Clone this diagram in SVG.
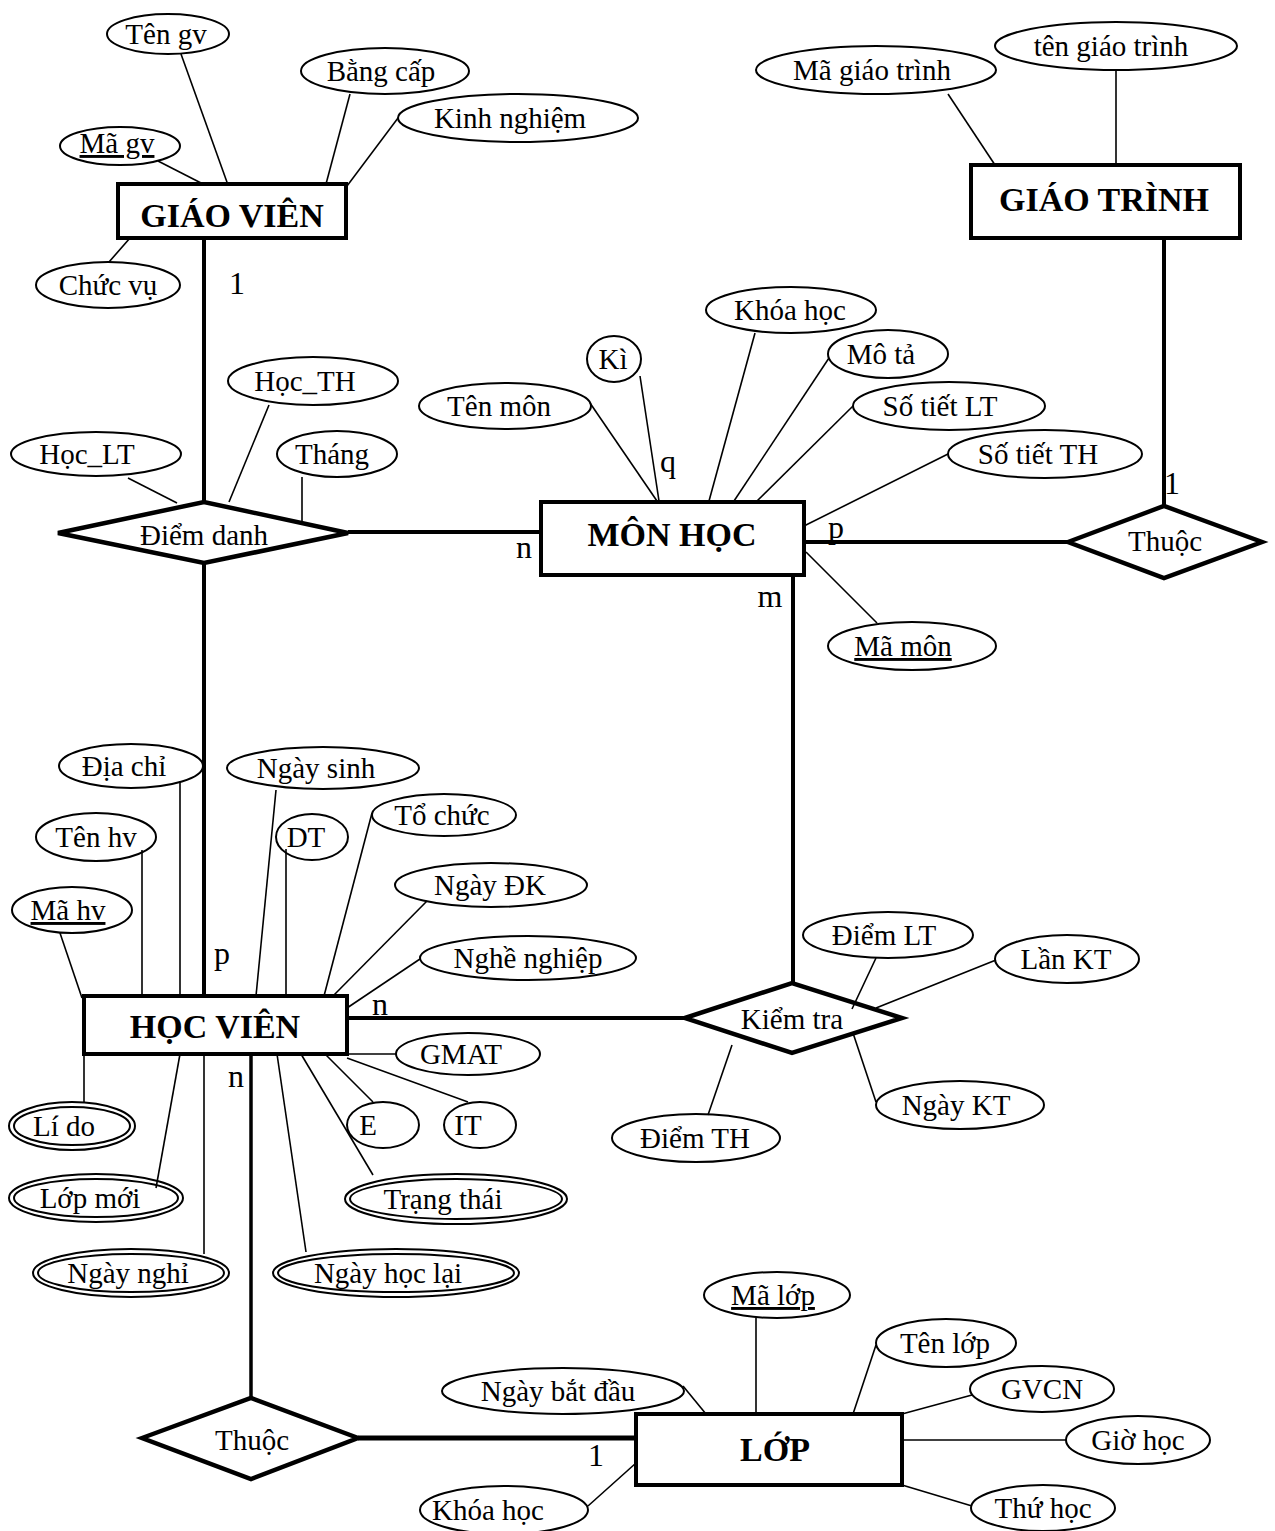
<svg xmlns="http://www.w3.org/2000/svg" width="1275" height="1531" viewBox="0 0 1275 1531">
<style>
text{font-family:"Liberation Serif","Times New Roman",serif;font-size:29px;text-anchor:middle;fill:#000}
.ename{font-weight:bold;font-size:34px}
.card{font-size:32px}
.u{text-decoration:underline}
.ent{fill:#fff;stroke:#000;stroke-width:4}
.rel{fill:#fff;stroke:#000;stroke-width:4.5;stroke-linejoin:miter}
.att{fill:#fff;stroke:#000;stroke-width:2}
.thin{stroke:#000;stroke-width:1.6;fill:none}
.thick{stroke:#000;stroke-width:4;fill:none}
</style>
<rect width="1275" height="1531" fill="#fff"/>

<!-- GIAO VIEN -->
<g id="giao-vien"><rect class="ent" x="118" y="184" width="228" height="54"/><text class="ename" x="232" y="227">GIÁO VIÊN</text></g>
<g id="ten-gv"><ellipse class="att" cx="168" cy="34" rx="61" ry="20"/><text x="166" y="44">Tên gv</text></g>
<g id="bang-cap"><ellipse class="att" cx="385" cy="71" rx="84" ry="23"/><text x="381" y="81">Bằng cấp</text></g>
<g id="kinh-nghiem"><ellipse class="att" cx="518" cy="118" rx="120" ry="24"/><text x="510" y="128">Kinh nghiệm</text></g>
<g id="ma-gv"><ellipse class="att" cx="120" cy="146" rx="60" ry="19"/><text class="u" x="117" y="153">Mã gv</text></g>
<g id="chuc-vu"><ellipse class="att" cx="108" cy="285" rx="72" ry="23"/><text x="108" y="295">Chức vụ</text></g>

<!-- DIEM DANH -->
<g id="diem-danh"><polygon class="rel" points="58,533 204,502 348,533 204,563"/><text x="204" y="545">Điểm danh</text></g>
<g id="hoc-lt"><ellipse class="att" cx="96" cy="454" rx="85" ry="22"/><text x="87" y="464">Học_LT</text></g>
<g id="hoc-th"><ellipse class="att" cx="313" cy="381" rx="85" ry="24"/><text x="305" y="391">Học_TH</text></g>
<g id="thang"><ellipse class="att" cx="337" cy="454" rx="60" ry="23"/><text x="332" y="464">Tháng</text></g>

<!-- MON HOC -->
<g id="mon-hoc"><rect class="ent" x="541" y="502" width="263" height="73"/><text class="ename" x="672" y="546">MÔN HỌC</text></g>
<g id="ten-mon"><ellipse class="att" cx="505" cy="406" rx="86" ry="23"/><text x="499" y="416">Tên môn</text></g>
<g id="ki"><ellipse class="att" cx="614" cy="359" rx="27" ry="23"/><text x="613" y="369">Kì</text></g>
<g id="khoa-hoc-mon"><ellipse class="att" cx="791" cy="310" rx="85" ry="23"/><text x="790" y="320">Khóa học</text></g>
<g id="mo-ta"><ellipse class="att" cx="888" cy="354" rx="60" ry="24"/><text x="881" y="364">Mô tả</text></g>
<g id="so-tiet-lt"><ellipse class="att" cx="949" cy="406" rx="96" ry="24"/><text x="940" y="416">Số tiết LT</text></g>
<g id="so-tiet-th"><ellipse class="att" cx="1045" cy="454" rx="97" ry="24"/><text x="1038" y="464">Số tiết TH</text></g>
<g id="ma-mon"><ellipse class="att" cx="912" cy="646" rx="84" ry="24"/><text class="u" x="903" y="656">Mã môn</text></g>

<!-- GIAO TRINH -->
<g id="giao-trinh"><rect class="ent" x="971" y="165" width="269" height="73"/><text class="ename" x="1104" y="211">GIÁO TRÌNH</text></g>
<g id="ma-giao-trinh"><ellipse class="att" cx="876" cy="70" rx="120" ry="24"/><text x="872" y="80">Mã giáo trình</text></g>
<g id="ten-giao-trinh"><ellipse class="att" cx="1116" cy="46" rx="121" ry="24"/><text x="1111" y="56">tên giáo trình</text></g>

<!-- THUOC (mon hoc - giao trinh) -->
<g id="thuoc-gt"><polygon class="rel" points="1068,542 1164,506 1262,542 1164,578"/><text x="1165" y="551">Thuộc</text></g>

<!-- HOC VIEN -->
<g id="hoc-vien"><rect class="ent" x="84" y="996" width="263" height="58"/><text class="ename" x="215" y="1038">HỌC VIÊN</text></g>
<g id="dia-chi"><ellipse class="att" cx="131" cy="766" rx="72" ry="22"/><text x="124" y="776">Địa chỉ</text></g>
<g id="ngay-sinh"><ellipse class="att" cx="323" cy="768" rx="96" ry="21"/><text x="316" y="778">Ngày sinh</text></g>
<g id="ten-hv"><ellipse class="att" cx="96" cy="837" rx="60" ry="24"/><text x="96" y="847">Tên hv</text></g>
<g id="dt"><ellipse class="att" cx="312" cy="837" rx="36" ry="23"/><text x="306" y="847">DT</text></g>
<g id="to-chuc"><ellipse class="att" cx="444" cy="815" rx="72" ry="21"/><text x="442" y="825">Tổ chức</text></g>
<g id="ma-hv"><ellipse class="att" cx="72" cy="910" rx="60" ry="23"/><text class="u" x="68" y="920">Mã hv</text></g>
<g id="ngay-dk"><ellipse class="att" cx="491" cy="885" rx="96" ry="22"/><text x="490" y="895">Ngày ĐK</text></g>
<g id="nghe-nghiep"><ellipse class="att" cx="528" cy="958" rx="108" ry="22"/><text x="528" y="968">Nghề nghiệp</text></g>
<g id="gmat"><ellipse class="att" cx="468" cy="1054" rx="72" ry="21"/><text x="461" y="1064">GMAT</text></g>
<g id="e"><ellipse class="att" cx="383" cy="1125" rx="36" ry="23"/><text x="368" y="1135">E</text></g>
<g id="it"><ellipse class="att" cx="480" cy="1125" rx="36" ry="23"/><text x="468" y="1135">IT</text></g>
<g id="li-do"><ellipse class="att" cx="72" cy="1126" rx="63" ry="24"/><ellipse class="att" cx="72" cy="1126" rx="58" ry="19"/><text x="64" y="1136">Lí do</text></g>
<g id="lop-moi"><ellipse class="att" cx="96" cy="1198" rx="87" ry="24"/><ellipse class="att" cx="96" cy="1198" rx="82" ry="19"/><text x="90" y="1208">Lớp mới</text></g>
<g id="ngay-nghi"><ellipse class="att" cx="131" cy="1273" rx="98" ry="24"/><ellipse class="att" cx="131" cy="1273" rx="93" ry="19"/><text x="128" y="1283">Ngày nghỉ</text></g>
<g id="trang-thai"><ellipse class="att" cx="456" cy="1199" rx="111" ry="25"/><ellipse class="att" cx="456" cy="1199" rx="106" ry="20"/><text x="443" y="1209">Trạng thái</text></g>
<g id="ngay-hoc-lai"><ellipse class="att" cx="396" cy="1273" rx="123" ry="24"/><ellipse class="att" cx="396" cy="1273" rx="118" ry="19"/><text x="388" y="1283">Ngày học lại</text></g>

<!-- KIEM TRA -->
<g id="kiem-tra"><polygon class="rel" points="685,1018 792,983 902,1018 792,1053"/><text x="792" y="1029">Kiểm tra</text></g>
<g id="diem-lt"><ellipse class="att" cx="888" cy="935" rx="85" ry="23"/><text x="884" y="945">Điểm LT</text></g>
<g id="lan-kt"><ellipse class="att" cx="1067" cy="959" rx="72" ry="24"/><text x="1066" y="969">Lần KT</text></g>
<g id="ngay-kt"><ellipse class="att" cx="960" cy="1105" rx="84" ry="24"/><text x="956" y="1115">Ngày KT</text></g>
<g id="diem-th"><ellipse class="att" cx="696" cy="1138" rx="84" ry="24"/><text x="695" y="1148">Điểm TH</text></g>

<!-- THUOC (hoc vien - lop) -->
<g id="thuoc-lop"><polygon class="rel" points="142,1438 251,1398 358,1438 251,1479"/><text x="252" y="1450">Thuộc</text></g>

<!-- LOP -->
<g id="lop"><rect class="ent" x="636" y="1414" width="266" height="71"/><text class="ename" x="775" y="1461">LỚP</text></g>
<g id="ma-lop"><ellipse class="att" cx="777" cy="1295" rx="73" ry="23"/><text class="u" x="773" y="1305">Mã lớp</text></g>
<g id="ten-lop"><ellipse class="att" cx="946" cy="1343" rx="70" ry="24"/><text x="945" y="1353">Tên lớp</text></g>
<g id="ngay-bat-dau"><ellipse class="att" cx="563" cy="1391" rx="121" ry="23"/><text x="558" y="1401">Ngày bắt đầu</text></g>
<g id="gvcn"><ellipse class="att" cx="1042" cy="1389" rx="72" ry="23"/><text x="1042" y="1399">GVCN</text></g>
<g id="gio-hoc"><ellipse class="att" cx="1138" cy="1440" rx="72" ry="24"/><text x="1138" y="1450">Giờ học</text></g>
<g id="thu-hoc"><ellipse class="att" cx="1043" cy="1508" rx="72" ry="23"/><text x="1043" y="1518">Thứ học</text></g>
<g id="khoa-hoc-lop"><ellipse class="att" cx="504" cy="1510" rx="84" ry="24"/><text x="488" y="1520">Khóa học</text></g>

<!-- connectors -->
<g id="connectors">
  <g class="thin">
    <line x1="181" y1="54" x2="228" y2="185"/>
    <line x1="350" y1="94" x2="326" y2="184"/>
    <line x1="398" y1="118" x2="347" y2="186"/>
    <line x1="158" y1="161" x2="203" y2="184"/>
    <line x1="109" y1="262" x2="130" y2="238"/>
    <line x1="128" y1="478" x2="177" y2="503"/>
    <line x1="269" y1="405" x2="229" y2="502"/>
    <line x1="302" y1="477" x2="302" y2="524"/>
    <line x1="590" y1="403" x2="657" y2="501"/>
    <line x1="640" y1="376" x2="659" y2="501"/>
    <line x1="755" y1="333" x2="709" y2="501"/>
    <line x1="829" y1="358" x2="734" y2="501"/>
    <line x1="853" y1="406" x2="757" y2="501"/>
    <line x1="948" y1="454" x2="804" y2="526"/>
    <line x1="806" y1="552" x2="877" y2="623"/>
    <line x1="948" y1="94" x2="995" y2="165"/>
    <line x1="1116" y1="70" x2="1116" y2="165"/>
    <line x1="180" y1="781" x2="180" y2="998"/>
    <line x1="276" y1="790" x2="256" y2="996"/>
    <line x1="142" y1="850" x2="142" y2="996"/>
    <line x1="286" y1="849" x2="286" y2="996"/>
    <line x1="372" y1="813" x2="324" y2="996"/>
    <line x1="60" y1="933" x2="82" y2="998"/>
    <line x1="427" y1="901" x2="333" y2="996"/>
    <line x1="420" y1="959" x2="347" y2="1008"/>
    <line x1="347" y1="1054" x2="397" y2="1054"/>
    <line x1="325" y1="1054" x2="373" y2="1102"/>
    <line x1="347" y1="1058" x2="468" y2="1102"/>
    <line x1="301" y1="1054" x2="373" y2="1175"/>
    <line x1="277" y1="1054" x2="306" y2="1252"/>
    <line x1="84" y1="1054" x2="84" y2="1102"/>
    <line x1="180" y1="1054" x2="156" y2="1188"/>
    <line x1="204" y1="1054" x2="204" y2="1254"/>
    <line x1="876" y1="958" x2="852" y2="1009"/>
    <line x1="996" y1="960" x2="876" y2="1008"/>
    <line x1="876" y1="1102" x2="853" y2="1033"/>
    <line x1="708" y1="1115" x2="732" y2="1045"/>
    <line x1="756" y1="1318" x2="756" y2="1414"/>
    <line x1="876" y1="1345" x2="853" y2="1414"/>
    <line x1="683" y1="1386" x2="706" y2="1414"/>
    <line x1="972" y1="1395" x2="902" y2="1414"/>
    <line x1="902" y1="1440" x2="1066" y2="1440"/>
    <line x1="972" y1="1506" x2="902" y2="1485"/>
    <line x1="588" y1="1506" x2="636" y2="1463"/>
  </g>
  <g class="thick">
    <line x1="204" y1="238" x2="204" y2="502"/>
    <line x1="348" y1="532" x2="541" y2="532"/>
    <line x1="204" y1="563" x2="204" y2="996"/>
    <line x1="804" y1="542" x2="1068" y2="542"/>
    <line x1="1164" y1="238" x2="1164" y2="506"/>
    <line x1="793" y1="575" x2="793" y2="983"/>
    <line x1="347" y1="1018" x2="685" y2="1018"/>
    <line x1="251" y1="1054" x2="251" y2="1398" style="stroke-width:3.5"/>
    <line x1="358" y1="1438" x2="636" y2="1438" style="stroke-width:5"/>
  </g>
  <text class="card" x="237" y="294">1</text>
  <text class="card" x="524" y="558">n</text>
  <text class="card" x="668" y="472">q</text>
  <text class="card" x="836" y="538">p</text>
  <text class="card" x="770" y="607">m</text>
  <text class="card" x="1172" y="494">1</text>
  <text class="card" x="222" y="964">p</text>
  <text class="card" x="380" y="1015">n</text>
  <text class="card" x="236" y="1087">n</text>
  <text class="card" x="596" y="1466">1</text>
</g>
</svg>
